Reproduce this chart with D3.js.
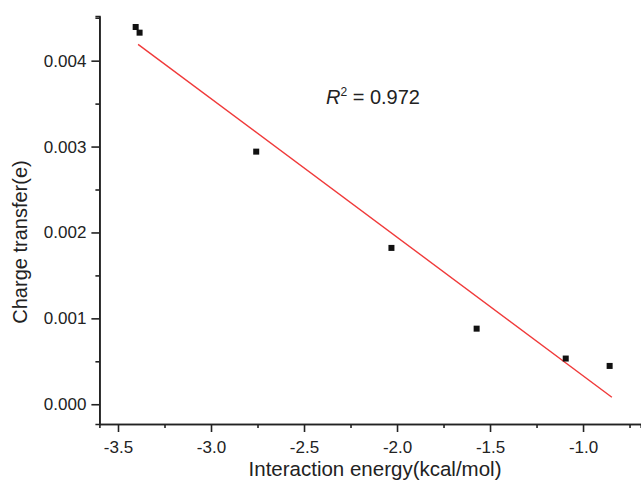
<!DOCTYPE html>
<html>
<head>
<meta charset="utf-8">
<script src="https://cdn.jsdelivr.net/npm/d3@7"></script>
<style>
  body { margin: 0; background: #fff; }
  text { font-family: "Liberation Sans", Arial, sans-serif; fill: #222; }
</style>
</head>
<body>
<div class="chart"></div>
<script>
// data
const energy = [-3.405, -3.384, -2.757, -2.030, -1.572, -1.093, -0.857];
const charge = [0.004392, 0.004326, 0.002941, 0.001820, 0.000880, 0.000532, 0.000446];
const fitX = [-3.392, -0.845];
const fitY = [0.004190, 0.000082];
const xMajor = [-3.5, -3.0, -2.5, -2.0, -1.5, -1.0];
const xMinor = [-3.25, -2.75, -2.25, -1.75, -1.25, -0.75];
const yMajor = [0.000, 0.001, 0.002, 0.003, 0.004];
const yMinor = [0.0005, 0.0015, 0.0025, 0.0035, 0.0045];

const w = 641;
const h = 482;

const xScale = d3.scaleLinear().domain([-3.6, -0.69]).range([99.4, 640.7]);
const yScale = d3.scaleLinear().domain([-0.00023, 0.00452]).range([424, 16]);

const svg = d3.select(".chart").append("svg").attr("width", w).attr("height", h);

// hyphen instead of unicode minus, like the original
const fmtX = (d) => d3.format(".1f")(d).replace("\u2212", "-");

// minor ticks first (no labels)
const xAxisMinor = d3.axisBottom(xScale).tickValues(xMinor).tickSize(4).tickFormat("");
const yAxisMinor = d3.axisLeft(yScale).tickValues(yMinor).tickSize(4).tickFormat("");
const xAxis = d3.axisBottom(xScale).tickValues(xMajor).tickSize(8).tickSizeOuter(0)
  .tickPadding(9).tickFormat(fmtX);
const yAxis = d3.axisLeft(yScale).tickValues(yMajor).tickSize(8).tickSizeOuter(0)
  .tickPadding(5).tickFormat(d3.format(".3f"));

function styleAxis(g) {
  g.selectAll("path, line").attr("stroke", "#222").attr("stroke-width", 1.6);
  g.selectAll("text").style("font-size", "17px").attr("fill", "#2a2a2a");
}

svg.append("g").attr("transform", "translate(0,424)").call(xAxisMinor).call(styleAxis);
svg.append("g").attr("transform", "translate(99.4,0)").call(yAxisMinor).call(styleAxis);
svg.append("g").attr("id", "x-axis").attr("transform", "translate(0,424)").call(xAxis).call(styleAxis);
svg.append("g").attr("id", "y-axis").attr("transform", "translate(99.4,0)").call(yAxis).call(styleAxis);

// fitted line
svg.append("line")
  .attr("x1", xScale(fitX[0])).attr("y1", yScale(fitY[0]))
  .attr("x2", xScale(fitX[1])).attr("y2", yScale(fitY[1]))
  .attr("stroke", "#f03a3a").attr("stroke-width", 1.4);

// points
svg.selectAll("rect.dot")
  .data(energy)
  .enter()
  .append("rect")
  .attr("class", "dot")
  .attr("x", (d) => xScale(d) - 3)
  .attr("y", (d, i) => yScale(charge[i]) - 3)
  .attr("width", 6)
  .attr("height", 6)
  .attr("fill", "#111");

// labels
svg.append("text")
  .attr("x", 375).attr("y", 476)
  .attr("text-anchor", "middle")
  .style("font-size", "20.5px")
  .text("Interaction energy(kcal/mol)");

svg.append("text")
  .attr("transform", "translate(27,242) rotate(-90)")
  .attr("text-anchor", "middle")
  .style("font-size", "20px")
  .text("Charge transfer(e)");

const r2 = svg.append("text").attr("x", 326).attr("y", 104).style("font-size", "20px");
r2.append("tspan").style("font-style", "italic").text("R");
r2.append("tspan").attr("dy", -8).style("font-size", "12px").text("2");
r2.append("tspan").attr("dy", 8).text(" = 0.972");
</script>
</body>
</html>
